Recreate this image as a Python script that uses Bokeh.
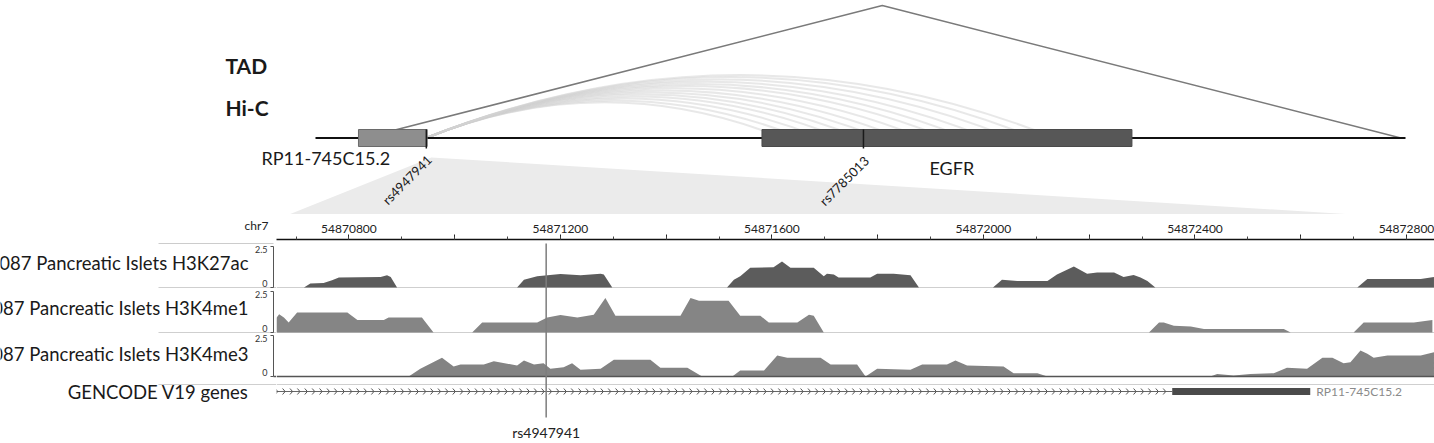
import numpy as np
from bokeh.plotting import figure
from bokeh.models import Range1d, LinearAxis, FixedTicker
from bokeh.layouts import column, row
from bokeh.embed import file_html
from bokeh.resources import INLINE
from bokeh.core.properties import value

FONT = "Lato"

# ---------------- data ----------------
chrom = "chr7"
top_region = [54800000, 55500000]
tad_bounds = [54831000, 55497000]
top_gene_names = ["RP11-745C15.2", "EGFR"]
top_gene_starts = [54827600, 55086725]
top_gene_ends = [54871700, 55324313]
snp_names = ["rs4947941", "rs7785013"]
snp_positions = [54871173, 55151900]
hic_anchor = 54871000
hic_targets = [55100000, 55112000, 55125000, 55138000, 55150000, 55163000, 55176000,
               55190000, 55205000, 55218000, 55232000, 55247000, 55262000, 55275000]

zoom_region = [54870663, 54872853]
tick_values = [54870800, 54871000, 54871200, 54871400, 54871600, 54871800,
               54872000, 54872200, 54872400, 54872600, 54872800]
tick_labels = ["54870800", "", "54871200", "", "54871600", "",
               "54872000", "", "54872400", "", "54872800"]
minor_tick_values = [54870700 + 100 * i for i in range(22)]

track_names = ["E087 Pancreatic Islets H3K27ac",
               "E087 Pancreatic Islets H3K4me1",
               "E087 Pancreatic Islets H3K4me3"]
track_ymax = 2.5
track_tick_labels = ["0", "2.5"]

h3k27ac_pos = [54870715, 54870727, 54870752, 54870768, 54870781, 54870860, 54870872, 54870879, 54870891,
               54871118, 54871131, 54871156, 54871200, 54871238, 54871276, 54871282, 54871298,
               54871515, 54871528, 54871540, 54871559, 54871603, 54871619, 54871635, 54871679,
               54871698, 54871704, 54871717, 54871726, 54871786, 54871799, 54871830, 54871862, 54871878,
               54872018, 54872035, 54872064, 54872121, 54872139, 54872171, 54872196, 54872215,
               54872247, 54872265, 54872284, 54872297, 54872310, 54872325,
               54872707, 54872726, 54872827, 54872852]
h3k27ac_val = [0, 0.24, 0.28, 0.44, 0.61, 0.64, 0.74, 0.64, 0,
               0, 0.48, 0.68, 0.82, 0.74, 0.84, 0.80, 0,
               0, 0.48, 0.68, 1.20, 1.24, 1.59, 1.20, 1.20,
               0.68, 0.84, 0.80, 0.61, 0.61, 0.84, 0.84, 0.74, 0,
               0, 0.48, 0.40, 0.40, 0.80, 1.28, 0.84, 0.92,
               0.92, 0.64, 0.76, 0.61, 0.40, 0,
               0, 0.52, 0.52, 0.64]

h3k4me1_pos = [54870663, 54870668, 54870677, 54870686, 54870702, 54870797, 54870816, 54870866,
               54870875, 54870938, 54870960, 54871033, 54871052, 54871156, 54871175, 54871200,
               54871232, 54871263, 54871285, 54871304, 54871427, 54871446, 54871462, 54871518,
               54871540, 54871578, 54871594, 54871648, 54871670, 54871679, 54871698,
               54872313, 54872332, 54872341, 54872360, 54872392, 54872417, 54872568, 54872581,
               54872700, 54872719, 54872814, 54872849]
h3k4me1_val = [0.90, 1.12, 0.91, 0.61, 1.22, 1.22, 0.76, 0.76,
               0.91, 0.91, 0, 0, 0.61, 0.61, 0.91, 1.06,
               0.91, 1.08, 2.10, 1.02, 1.02, 2.10, 1.93, 1.93,
               1.02, 1.02, 0.61, 0.61, 1.08, 1.02, 0,
               0, 0.61, 0.61, 0.41, 0.37, 0.22, 0.22, 0,
               0, 0.61, 0.61, 0.76]

h3k4me3_pos = [54870913, 54870935, 54870976, 54870998, 54871011, 54871055, 54871074, 54871118,
               54871131, 54871150, 54871168, 54871181, 54871206, 54871222, 54871238, 54871276,
               54871301, 54871370, 54871389, 54871440, 54871468, 54871525, 54871540, 54871585,
               54871610, 54871629, 54871692, 54871711, 54871761, 54871777, 54871799, 54871862,
               54871884, 54871931, 54871947, 54871969, 54872038, 54872057, 54872102, 54872121,
               54872429, 54872442, 54872473, 54872505, 54872549, 54872574, 54872612, 54872641,
               54872660, 54872681, 54872694, 54872713, 54872726, 54872738, 54872764, 54872827,
               54872852]
h3k4me3_val = [0, 0.47, 1.14, 0.61, 0.73, 0.73, 0.93, 0.67,
               0.98, 0.73, 0.81, 0.47, 0.57, 0.81, 0.41, 0.47,
               1.02, 1.02, 0.53, 0.53, 0, 0, 0.37, 0.37,
               1.28, 1.14, 1.14, 0.73, 0.73, 0, 0.47, 0.41,
               0.73, 0.73, 0.98, 0.67, 0.61, 0.20, 0.20, 0,
               0, 0.16, 0.06, 0.16, 0.20, 0.53, 0.47, 1.14,
               1.14, 0.81, 0.87, 1.59, 1.38, 1.14, 1.28, 1.28,
               1.48]

gencode_label = "GENCODE V19 genes"
gencode_gene = "RP11-745C15.2"
gencode_intron = [54870657, 54872357]
gencode_exon = [54872357, 54872618]

# ---------------- layout / style ----------------
W = 1434
H_TOP = 214
AXIS_H = 25
H_BOT = 443 - H_TOP
FRAME_TOP = H_TOP + AXIS_H
TOP_PX = (315, 1405)
FINE_PX = (276, 1434)
CHR_Y = 137.5
TAD_APEX_Y = 5
BOX_TOP, BOX_BOT = 129, 146
LEFT_W = FINE_PX[0]
CHROM_LABEL_X = 256

top_scale = (TOP_PX[1] - TOP_PX[0]) / (top_region[1] - top_region[0])
top_x0 = top_region[0] - TOP_PX[0] / top_scale
top_x1 = top_x0 + W / top_scale
fine_scale = (FINE_PX[1] - FINE_PX[0]) / (zoom_region[1] - zoom_region[0])


def top_px(bp):
    return (np.asarray(bp, dtype=float) - top_x0) * top_scale


def fine_px(bp):
    return FINE_PX[0] + (np.asarray(bp, dtype=float) - zoom_region[0]) * fine_scale


# ---------------- top panel ----------------
p1 = figure(width=W, height=H_TOP, x_range=Range1d(top_x0, top_x1), y_range=Range1d(H_TOP, 0),
            output_backend="svg", toolbar_location=None, min_border=0,
            x_axis_type=None, y_axis_type=None, outline_line_color=None)
p1.grid.visible = False
p1.extra_x_ranges = {"px": Range1d(0, W)}

# zoom wedge
p1.patch(x=[float(top_px(snp_positions[0])) + 5, float(fine_px(zoom_region[0])), float(fine_px(zoom_region[1]))],
         y=[157, 219, 219], x_range_name="px", fill_color="#ebebeb", line_color=None)

# Hi-C arcs
tg = np.array(hic_targets, dtype=float)
span_px = (tg - hic_anchor) * top_scale
p1.quadratic(x0=[hic_anchor] * len(tg), y0=[CHR_Y] * len(tg), x1=tg, y1=[CHR_Y] * len(tg),
             cx=(tg + hic_anchor) / 2, cy=CHR_Y - 0.2 * span_px,
             line_color="#d2d2d2", line_alpha=0.5, line_width=2)

# TAD triangle
p1.line(x=[tad_bounds[0], (tad_bounds[0] + tad_bounds[1]) / 2, tad_bounds[1]],
        y=[CHR_Y, TAD_APEX_Y, CHR_Y], line_color="#7a7a7a", line_width=1.5)

# chromosome line
p1.line(x=top_region, y=[CHR_Y, CHR_Y], line_color="#111111", line_width=2.2)

# gene boxes
p1.quad(left=top_gene_starts, right=top_gene_ends, top=BOX_TOP, bottom=BOX_BOT,
        fill_color=["#8e8e8e", "#575757"], line_color=["#6a6a6a", "#4a4a4a"], line_width=1)

# SNP marks
p1.segment(x0=snp_positions, y0=BOX_TOP, x1=snp_positions, y1=BOX_BOT + 2,
           line_color="#1a1a1a", line_width=1.5)

# track titles
p1.text(x=[225, 225], y=[65, 107], text=["TAD", "Hi-C"], x_range_name="px",
        text_font=value(FONT), text_font_style="bold", text_font_size="21px",
        text_color="#1a1a1a", text_align="left", text_baseline="middle")

# gene labels
p1.text(x=[261, 929], y=[157, 167], text=top_gene_names, x_range_name="px",
        text_font=value(FONT), text_font_size="18px", text_color="#1a1a1a",
        text_align="left", text_baseline="middle")

# rotated SNP labels
p1.text(x=snp_positions, y=[157, 158], text=snp_names, x_offset=3,
        angle=45, angle_units="deg", text_font=value(FONT), text_font_size="13px",
        text_color="#1a1a1a", text_align="right", text_baseline="middle")

# ---------------- bottom-left panel (labels) ----------------
pl = figure(width=LEFT_W, height=H_BOT, x_range=Range1d(0, LEFT_W), y_range=Range1d(443, FRAME_TOP),
            output_backend="svg", toolbar_location=None,
            min_border_left=0, min_border_right=0, min_border_bottom=0, min_border_top=AXIS_H,
            x_axis_type=None, y_axis_type=None, outline_line_color=None)
pl.grid.visible = False

# chromosome name shown in the axis row
chrom_axis = LinearAxis(ticker=FixedTicker(ticks=[CHROM_LABEL_X], minor_ticks=[]),
                        major_label_overrides={CHROM_LABEL_X: chrom},
                        axis_line_color=None, major_tick_line_color=None, minor_tick_line_color=None,
                        major_tick_in=0, major_tick_out=5, major_label_standoff=2,
                        major_label_text_font=FONT, major_label_text_font_size="12px",
                        major_label_text_color="#222222")
pl.add_layout(chrom_axis, "above")

track_px = [(246, 287), (291, 332), (335, 376)]

pl.segment(x0=[158], y0=[243], x1=[273], y1=[243], line_color="#cccccc", line_width=1)
pl.segment(x0=[158, 158, 158], y0=[287, 332, 384], x1=[LEFT_W] * 3, y1=[287, 332, 384],
           line_color="#cfcfcf", line_width=1.2)
for i, (tp, bs) in enumerate(track_px):
    pl.segment(x0=[273], y0=[tp], x1=[273], y1=[bs], line_color="#555555", line_width=1)
    pl.segment(x0=[270, 270], y0=[tp, bs], x1=[273, 273], y1=[tp, bs],
               line_color="#555555", line_width=1)
    pl.text(x=[267, 267], y=[bs - 1, tp - 1], text=track_tick_labels,
            text_font=value(FONT), text_font_size="9px", text_color="#333333",
            text_align="right", text_baseline=["bottom", "top"])
pl.segment(x0=[273], y0=[376], x1=[LEFT_W], y1=[376], line_color="#555555", line_width=1.5)

label_y = [262, 307, 353, 391]
pl.text(x=[248] * 4, y=label_y, text=track_names + [gencode_label],
        text_font=value(FONT), text_font_size="18.5px", text_color="#1a1a1a",
        text_align="right", text_baseline="middle")

# ---------------- bottom panel (zoomed tracks) ----------------
p2 = figure(width=W - LEFT_W, height=H_BOT, x_range=Range1d(zoom_region[0], zoom_region[1]),
            y_range=Range1d(443, FRAME_TOP),
            output_backend="svg", toolbar_location=None,
            min_border_left=0, min_border_right=0, min_border_bottom=0, min_border_top=AXIS_H,
            x_axis_type=None, y_axis_type=None, outline_line_color=None)
p2.grid.visible = False
extra_y = {}
for i, (tp, bs) in enumerate(track_px):
    per = (bs - tp) / track_ymax
    extra_y[f"t{i}"] = Range1d((bs - 443) / per, (bs - FRAME_TOP) / per)
p2.extra_y_ranges = extra_y
p2.extra_x_ranges = {"px": Range1d(FINE_PX[0], W)}

axis = LinearAxis(bounds=(zoom_region[0], zoom_region[1]),
                  ticker=FixedTicker(ticks=tick_values, minor_ticks=minor_tick_values),
                  major_label_overrides={t: l for t, l in zip(tick_values, tick_labels)},
                  major_tick_in=0, major_tick_out=5, minor_tick_in=0, minor_tick_out=3,
                  major_tick_line_color="#222222", minor_tick_line_color="#444444",
                  axis_line_color="#111111", axis_line_width=1.5,
                  major_label_standoff=2, major_label_text_font=FONT,
                  major_label_text_font_size="12px", major_label_text_color="#222222")
p2.add_layout(axis, "above")

p2.segment(x0=[FINE_PX[0]] * 3, y0=[287, 332, 384], x1=[W] * 3, y1=[287, 332, 384],
           x_range_name="px", line_color="#cfcfcf", line_width=1.2)

fills = ["#5c5c5c", "#858585", "#838383"]
pos_list = [h3k27ac_pos, h3k4me1_pos, h3k4me3_pos]
val_list = [h3k27ac_val, h3k4me1_val, h3k4me3_val]
for i in range(3):
    p2.varea(x=pos_list[i], y1=[0] * len(pos_list[i]), y2=val_list[i],
             y_range_name=f"t{i}", fill_color=fills[i])

p2.segment(x0=[FINE_PX[0]], y0=[376], x1=[W], y1=[376], x_range_name="px",
           line_color="#555555", line_width=1.5)

# gene track
GY = 391
p2.line(x=gencode_intron, y=[GY, GY], line_color="#666666", line_width=1)
chev_step = 7.4 / fine_scale
chev_x = np.arange(gencode_intron[0] + chev_step * 0.6, gencode_intron[1] - chev_step * 0.3, chev_step)
cw = 2.6 / fine_scale
p2.segment(x0=np.concatenate([chev_x - cw, chev_x - cw]), y0=[GY - 3] * len(chev_x) + [GY + 3] * len(chev_x),
           x1=np.concatenate([chev_x, chev_x]), y1=[GY] * (2 * len(chev_x)),
           line_color="#555555", line_width=1)
p2.quad(left=[gencode_exon[0]], right=[gencode_exon[1]], top=[GY - 3.5], bottom=[GY + 3.5],
        fill_color="#4a4a4a", line_color=None)
p2.text(x=[gencode_exon[1]], y=[GY], text=[gencode_gene], x_offset=6,
        text_font=value(FONT), text_font_size="12px", text_color="#8a8a8a",
        text_align="left", text_baseline="middle")

# SNP line in zoomed panel
p2.segment(x0=[snp_positions[0]], y0=[243], x1=[snp_positions[0]], y1=[417],
           line_color="#7d7d7d", line_width=1.5)
p2.text(x=[snp_positions[0]], y=[432], text=[snp_names[0]],
        text_font=value(FONT), text_font_size="14px", text_color="#222222",
        text_align="center", text_baseline="middle")

layout = column(p1, row(pl, p2, spacing=0), spacing=0)
open("out.html", "w").write(file_html(layout, INLINE))
